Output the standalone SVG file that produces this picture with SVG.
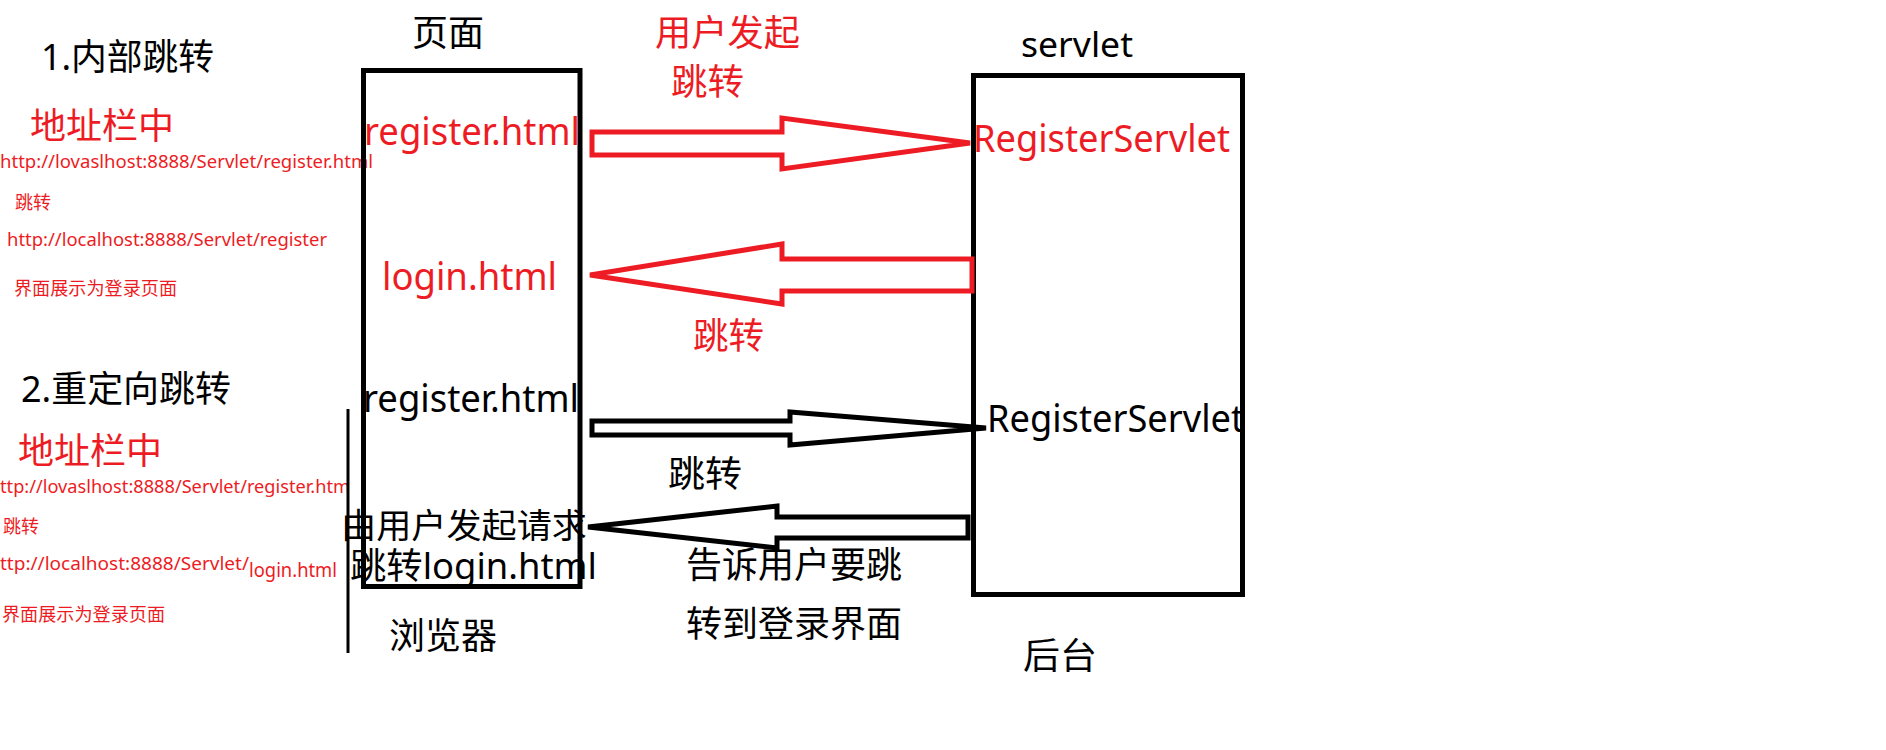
<svg xmlns="http://www.w3.org/2000/svg" width="1886" height="750" viewBox="0 0 1886 750">
<style>
text{font-family:"Noto Sans","Noto Sans CJK SC",sans-serif}
.k{fill:#000}
.r{fill:#ed1c24}
.big{font-size:36px}
.lat{font-size:38px}
.sm{font-size:18px}
.box{fill:none;stroke:#000;stroke-width:5}
.ar{fill:none;stroke:#ed1c24;stroke-width:5;stroke-linejoin:miter}
.ab{fill:none;stroke:#000;stroke-width:5;stroke-linejoin:miter}
.vl{stroke:#000;stroke-width:3}
</style>
<rect width="1886" height="750" fill="#fff"/>

<g id="section1">
<text class="k big" x="41" y="70" textLength="173" lengthAdjust="spacingAndGlyphs">1.内部跳转</text>
<text class="r big" x="30" y="139" textLength="144" lengthAdjust="spacingAndGlyphs">地址栏中</text>
<text class="r sm" x="0" y="168" textLength="373" lengthAdjust="spacingAndGlyphs">http://lovaslhost:8888/Servlet/register.html</text>
<text class="r sm" x="15" y="209" textLength="36" lengthAdjust="spacingAndGlyphs">跳转</text>
<text class="r sm" x="7" y="246" textLength="320" lengthAdjust="spacingAndGlyphs">http://localhost:8888/Servlet/register</text>
<text class="r sm" x="14" y="295" textLength="163" lengthAdjust="spacingAndGlyphs">界面展示为登录页面</text>
</g>

<g id="section2">
<text class="k big" x="21" y="402" textLength="210" lengthAdjust="spacingAndGlyphs">2.重定向跳转</text>
<text class="r big" x="18" y="464" textLength="144" lengthAdjust="spacingAndGlyphs">地址栏中</text>
<text class="r sm" x="0" y="493" textLength="350" lengthAdjust="spacingAndGlyphs">ttp://lovaslhost:8888/Servlet/register.htm</text>
<text class="r sm" x="3" y="533" textLength="36" lengthAdjust="spacingAndGlyphs">跳转</text>
<text class="r sm" x="0" y="570" textLength="249" lengthAdjust="spacingAndGlyphs">ttp://localhost:8888/Servlet/</text>
<text class="r" style="font-size:19px" x="249" y="577" textLength="88" lengthAdjust="spacingAndGlyphs">login.html</text>
<text class="r sm" x="2" y="621" textLength="163" lengthAdjust="spacingAndGlyphs">界面展示为登录页面</text>
<line class="vl" x1="348" y1="409" x2="348" y2="653"/>
</g>

<g id="browser">
<text class="k big" x="412" y="46" textLength="72" lengthAdjust="spacingAndGlyphs">页面</text>
<rect class="box" x="363.5" y="70.5" width="216.5" height="516"/>
<text class="r lat" x="364" y="145" textLength="216" lengthAdjust="spacingAndGlyphs">register.html</text>
<text class="r lat" x="382" y="290" textLength="175" lengthAdjust="spacingAndGlyphs">login.html</text>
<text class="k lat" x="363" y="412" textLength="216" lengthAdjust="spacingAndGlyphs">register.html</text>
<text class="k" style="font-size:34px" x="341" y="538" textLength="246" lengthAdjust="spacingAndGlyphs">由用户发起请求</text>
<text class="k big" x="350" y="579" textLength="247" lengthAdjust="spacingAndGlyphs">跳转login.html</text>
<text class="k big" x="389" y="649" textLength="108" lengthAdjust="spacingAndGlyphs">浏览器</text>
</g>

<g id="servlet">
<text class="k" style="font-size:35px" x="1021" y="57" textLength="112" lengthAdjust="spacingAndGlyphs">servlet</text>
<rect class="box" x="973.5" y="75.5" width="269" height="519"/>
<text class="r lat" x="973" y="152" textLength="257" lengthAdjust="spacingAndGlyphs">RegisterServlet</text>
<text class="k lat" x="987" y="432" textLength="257" lengthAdjust="spacingAndGlyphs">RegisterServlet</text>
<text class="k big" x="1023" y="669" textLength="74" lengthAdjust="spacingAndGlyphs">后台</text>
</g>

<g id="connectors">
<polygon class="ar" points="592,132 782,132 782,118 970,143 782,169 782,155 592,155"/>
<polygon class="ar" points="590,275 782,244 782,259 972,259 972,291 782,291 782,304"/>
<polygon class="ab" points="592,421 790,421 790,412 986,428 790,445 790,435 592,435"/>
<polygon class="ab" points="588,527 777,506 777,517 968,517 968,538 777,538 777,548"/>
</g>

<g id="connector-labels">
<text class="r big" x="655" y="46" textLength="145" lengthAdjust="spacingAndGlyphs">用户发起</text>
<text class="r big" x="671" y="95" textLength="73" lengthAdjust="spacingAndGlyphs">跳转</text>
<text class="r big" x="693" y="349" textLength="71" lengthAdjust="spacingAndGlyphs">跳转</text>
<text class="k big" x="668" y="487" textLength="74" lengthAdjust="spacingAndGlyphs">跳转</text>
<text class="k big" x="686" y="578" textLength="216" lengthAdjust="spacingAndGlyphs">告诉用户要跳</text>
<text class="k big" x="686" y="637" textLength="216" lengthAdjust="spacingAndGlyphs">转到登录界面</text>
</g>
</svg>
